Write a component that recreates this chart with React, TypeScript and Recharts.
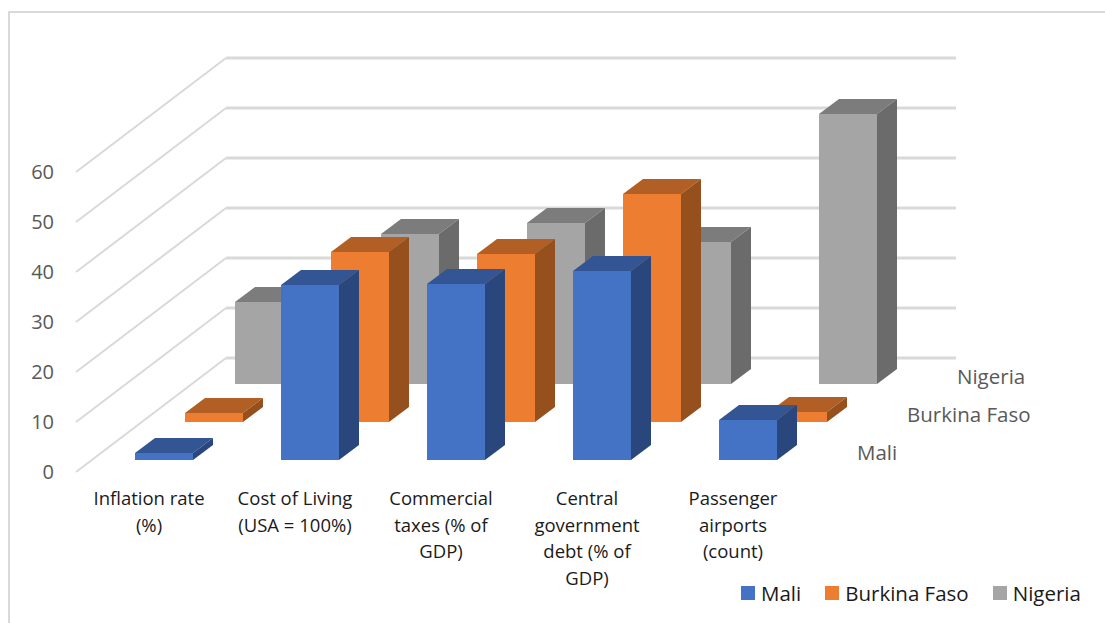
import React from "react";
import { ComposedChart, Bar, XAxis, YAxis, CartesianGrid, Legend } from "recharts";

const categories = ["Inflation rate (%)", "Cost of Living (USA = 100%)", "Commercial taxes (% of GDP)", "Central government debt (% of GDP)", "Passenger airports (count)"];
const categoryLines = [
  ["Inflation rate", "(%)"],
  ["Cost of Living", "(USA = 100%)"],
  ["Commercial", "taxes (% of", "GDP)"],
  ["Central", "government", "debt (% of", "GDP)"],
  ["Passenger", "airports", "(count)"],
];
const mali = [1.4, 35, 35.2, 37.8, 8];
const burkinaFaso = [1.8, 34, 33.6, 45.6, 2];
const nigeria = [16.4, 30, 32.2, 28.4, 54];
const yTicks = [0, 10, 20, 30, 40, 50, 60];
const legendOrder = ["Mali", "Burkina Faso", "Nigeria"];

const data = categories.map((name, i) => ({
  name,
  mali: mali[i],
  burkinaFaso: burkinaFaso[i],
  nigeria: nigeria[i],
}));

const FONT = "'Open Sans', sans-serif";
const BAR_WIDTH = 58;
// oblique offset of a bar's top and side faces
const BOX_DX = 20;
const BOX_DY = 15;
// how far the back wall sits behind the front plane
const WALL_DX = 150;
const WALL_DY = 114;

// painted back to front, so the nearest series comes last
const series = [
  { key: "nigeria", name: "Nigeria", front: "#a5a5a5", top: "#7c7c7c", side: "#6b6b6b", dx: 115, dy: 88 },
  { key: "burkinaFaso", name: "Burkina Faso", front: "#ed7d31", top: "#b15f25", side: "#95501d", dx: 65, dy: 50 },
  { key: "mali", name: "Mali", front: "#4472c4", top: "#335593", side: "#29477d", dx: 15, dy: 12 },
];

const Box = ({ x, y, width, height, dx, dy, front, top, side }: any) => {
  const l = x + dx;
  const t = y - dy;
  const r = l + width;
  const b = t + height;
  return (
    <g>
      <path d={`M${l},${t} L${l + BOX_DX},${t - BOX_DY} H${r + BOX_DX} L${r},${t} Z`} fill={top} />
      <path d={`M${r},${t} L${r + BOX_DX},${t - BOX_DY} V${b - BOX_DY} L${r},${b} Z`} fill={side} />
      <rect x={l} y={t} width={width} height={height} fill={front} />
    </g>
  );
};

// side wall diagonal plus back wall line for each gridline
const WallLine = ({ x1, x2, y1 }: any) => (
  <g fill="none" stroke="#d9d9d9">
    <path d={`M${x1},${y1} L${x1 + WALL_DX},${y1 - WALL_DY}`} strokeWidth={2} />
    <path d={`M${x1 + WALL_DX},${y1 - WALL_DY} H${x2 + WALL_DX}`} strokeWidth={3} />
  </g>
);

const CategoryTick = ({ x, y, index }: any) => (
  <text x={x} y={y} textAnchor="middle" fontFamily={FONT} fontSize={18.5} fill="#1a1a1a">
    {categoryLines[index].map((line, i) => (
      <tspan key={line} x={x} dy={i === 0 ? 0 : 26.5}>
        {line}
      </tspan>
    ))}
  </text>
);

const SeriesLegend = ({ payload }: any) => {
  const items = legendOrder.map((name) => (payload ?? []).find((item: any) => item.value === name)).filter(Boolean);
  return (
    <div style={{ display: "flex", alignItems: "center", fontFamily: FONT, fontSize: 20.5, color: "#1a1a1a", lineHeight: "28px", whiteSpace: "nowrap" }}>
      {items.map((item: any) => (
        <span key={item.value} style={{ display: "flex", flexShrink: 0, alignItems: "center", marginRight: 24 }}>
          <span style={{ width: 14, height: 14, background: item.color, marginRight: 6 }} />
          {item.value}
        </span>
      ))}
    </div>
  );
};

export default function App() {
  return (
    <div style={{ position: "absolute", left: 0, top: 0, width: 1105, height: 623, overflow: "hidden" }}>
      <div style={{ position: "absolute", left: 8, top: 11, right: 0, bottom: 0, borderLeft: "2px solid #d9d9d9", borderTop: "2px solid #d9d9d9" }} />
      <ComposedChart
        width={1105}
        height={623}
        data={data}
        barSize={BAR_WIDTH}
        barGap={-BAR_WIDTH}
        margin={{ top: 172, right: 299, bottom: 111, left: 26 }}
        style={{ position: "absolute", left: 0, top: 0 }}
      >
        <CartesianGrid vertical={false} horizontal={(props: any) => <WallLine key={props.y1} {...props} />} />
        <XAxis dataKey="name" height={40} axisLine={false} tickLine={false} interval={0} tick={<CategoryTick />} tickSize={0} tickMargin={33} />
        <YAxis
          width={50}
          domain={[0, 60]}
          ticks={yTicks}
          axisLine={false}
          tickLine={false}
          tickSize={0}
          tickMargin={22}
          tick={{ fontFamily: FONT, fontSize: 20, fill: "#595959" }}
        />
        {series.map((s) => (
          <Bar
            key={s.key}
            dataKey={s.key}
            name={s.name}
            fill={s.front}
            isAnimationActive={false}
            shape={(props: any) => <Box {...props} dx={s.dx} dy={s.dy} front={s.front} top={s.top} side={s.side} />}
          />
        ))}
        {/* depth axis labels, one per series row */}
        {series.map((s) => (
          <text key={s.key} x={842 + s.dx} y={472 - s.dy} fontFamily={FONT} fontSize={20.5} fill="#595959">
            {s.name}
          </text>
        ))}
        <Legend
          layout="horizontal"
          verticalAlign="middle"
          content={<SeriesLegend />}
          wrapperStyle={{ left: 741, top: 579, width: 364 }}
        />
      </ComposedChart>
    </div>
  );
}
